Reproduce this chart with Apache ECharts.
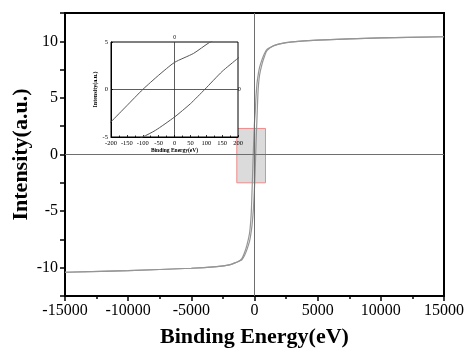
<!DOCTYPE html>
<html><head><meta charset="utf-8">
<script src="https://cdn.jsdelivr.net/npm/echarts@6/dist/echarts.min.js"></script>
<style>html,body{margin:0;padding:0;background:#fff}#c{width:465px;height:356px}</style>
</head><body><div id="c"></div>
<script>
const upperX = [-15000,-10000,-5000,-3000,-2000,-1500,-1200,-1000,-800,-600,-400,-300,-250,-200,-150,-100,-50,0,60,110,150,200,300,400,600,800,1000,1500,2000,3000,5000,10000,15000];
const upperY = [-10.4,-10.25,-10.05,-9.9,-9.75,-9.55,-9.4,-9.2,-8.7,-8.0,-7.0,-5.9,-5.0,-3.4,-1.7,0,1.5,2.85,3.8,4.95,5.6,6.3,7.1,7.7,8.4,8.95,9.3,9.6,9.78,9.95,10.1,10.3,10.4];
const lowerX = [-15000,-10000,-5000,-3000,-2000,-1500,-1200,-1000,-800,-600,-400,-300,-200,-150,-100,-60,0,50,95,150,200,250,300,400,600,800,1000,1500,2000,3000,5000,10000,15000];
const lowerY = [-10.4,-10.25,-10.05,-9.9,-9.75,-9.55,-9.4,-9.3,-8.95,-8.4,-7.7,-7.1,-6.3,-5.7,-5.0,-4.3,-2.9,-1.5,0,1.9,3.3,4.8,5.9,7.0,8.0,8.7,9.2,9.6,9.78,9.95,10.1,10.3,10.4];
const zoomBox = [[-1400, 2.3], [870, -2.5]];
const mainXTitle = 'Binding Energy(eV)';
const mainYTitle = 'Intensity(a.u.)';

const pair = (xs, ys) => xs.map((x, i) => [x, ys[i]]);
const serif = '"Liberation Serif", "Times New Roman", serif';
const chart = echarts.init(document.getElementById('c'), null, {renderer: 'canvas'});
const lab = (size) => ({fontFamily: serif, fontSize: size, color: '#000'});

chart.setOption({
  animation: false,
  grid: [
    {left: 65, right: 21, top: 13, bottom: 60, show: true, borderColor: '#000', borderWidth: 2, outerBoundsMode: 'none', containLabel: false},
    {left: 111, right: 227, top: 42, bottom: 219, show: true, borderColor: '#000', borderWidth: 1, backgroundColor: '#fff', z: 5, outerBoundsMode: 'none', containLabel: false}
  ],
  xAxis: [
    {gridIndex: 0, type: 'value', min: -15000, max: 15000, interval: 5000,
     name: mainXTitle, nameLocation: 'middle', nameGap: 30,
     nameTextStyle: {fontFamily: serif, fontSize: 22, fontWeight: 'bold', color: '#000'},
     axisLine: {show: true, onZero: false, lineStyle: {color: '#000', width: 2}},
     axisTick: {show: true, inside: false, length: 5, lineStyle: {color: '#000', width: 1.5}},
     minorTick: {show: true, splitNumber: 2, length: 3, lineStyle: {color: '#000', width: 1.5}},
     axisLabel: Object.assign(lab(16), {margin: 7, showMinLabel: true, showMaxLabel: true, formatter: v => String(v)}),
     splitLine: {show: false}},
    {gridIndex: 1, type: 'value', min: -200, max: 200, interval: 50,
     name: 'Binding Energy(eV)', nameLocation: 'middle', nameGap: 11,
     nameTextStyle: {fontFamily: serif, fontSize: 5.5, fontWeight: 'bold', color: '#000'},
     axisLine: {show: true, onZero: false, lineStyle: {color: '#000', width: 1}},
     axisTick: {show: true, inside: true, length: 2, lineStyle: {color: '#000', width: 0.8}},
     minorTick: {show: true, splitNumber: 2, length: 1.5, lineStyle: {color: '#000', width: 0.8}},
     axisLabel: Object.assign(lab(6.5), {margin: 3, showMinLabel: true, showMaxLabel: true, formatter: v => String(v)}),
     splitLine: {show: false}, z: 6},
    {gridIndex: 1, type: 'value', position: 'top', min: -200, max: 200, interval: 200,
     axisLine: {show: false}, axisTick: {show: false}, splitLine: {show: false},
     axisLabel: Object.assign(lab(5.5), {margin: 1, formatter: v => v === 0 ? '0' : ''}), z: 6}
  ],
  yAxis: [
    {gridIndex: 0, type: 'value', min: -12.5, max: 12.5, interval: 2.5,
     name: mainYTitle, nameLocation: 'middle', nameGap: 33, nameMoveOverlap: false,
     nameTextStyle: {fontFamily: serif, fontSize: 22, fontWeight: 'bold', color: '#000'},
     axisLine: {show: true, onZero: false, lineStyle: {color: '#000', width: 2}},
     axisTick: {show: true, inside: false, length: 5, lineStyle: {color: '#000', width: 1.5}},
     axisLabel: Object.assign(lab(16), {margin: 7, formatter: v => (v % 5 === 0 ? String(v) : '')}),
     splitLine: {show: false}},
    {gridIndex: 1, type: 'value', min: -5, max: 5, interval: 5,
     name: 'Intensity(a.u.)', nameLocation: 'middle', nameGap: 7,
     nameTextStyle: {fontFamily: serif, fontSize: 6, fontWeight: 'bold', color: '#000'},
     axisLine: {show: true, onZero: false, lineStyle: {color: '#000', width: 1}},
     axisTick: {show: true, inside: true, length: 2, lineStyle: {color: '#000', width: 0.8}},
     axisLabel: Object.assign(lab(6.5), {margin: 3}),
     splitLine: {show: false}, z: 6},
    {gridIndex: 1, type: 'value', position: 'right', min: -5, max: 5, interval: 5,
     axisLine: {show: false}, axisTick: {show: false}, splitLine: {show: false},
     axisLabel: Object.assign(lab(5.5), {margin: 0, formatter: v => v === 0 ? '0' : ''}), z: 6}
  ],
  series: [
    {type: 'line', xAxisIndex: 0, yAxisIndex: 0, data: pair(upperX, upperY), showSymbol: false,
     smooth: 0.3, lineStyle: {color: '#959595', width: 1.2}, z: 3,
     markLine: {silent: true, symbol: 'none', label: {show: false},
       lineStyle: {color: '#6e6e6e', width: 1, type: 'solid'},
       data: [{xAxis: 0}, {yAxis: 0}]},
     markArea: {silent: true, itemStyle: {color: 'rgba(200,200,200,0.65)', borderColor: '#f08a8a', borderWidth: 1},
       data: [[{coord: zoomBox[0]}, {coord: zoomBox[1]}]]}},
    {type: 'line', xAxisIndex: 0, yAxisIndex: 0, data: pair(lowerX, lowerY), showSymbol: false,
     smooth: 0.3, lineStyle: {color: '#959595', width: 1.2}, z: 3},
    {type: 'line', xAxisIndex: 1, yAxisIndex: 1, data: pair(upperX, upperY), showSymbol: false,
     smooth: 0.2, clip: true, lineStyle: {color: '#555', width: 1}, z: 7,
     markLine: {silent: true, symbol: 'none', label: {show: false},
       lineStyle: {color: '#333', width: 0.8, type: 'solid'},
       data: [{xAxis: 0}, {yAxis: 0}]}},
    {type: 'line', xAxisIndex: 1, yAxisIndex: 1, data: pair(lowerX, lowerY), showSymbol: false,
     smooth: 0.2, clip: true, lineStyle: {color: '#555', width: 1}, z: 7}
  ]
});
</script></body></html>
